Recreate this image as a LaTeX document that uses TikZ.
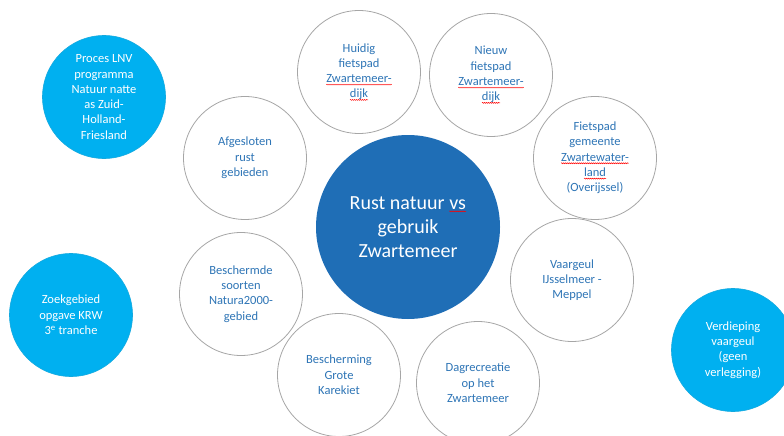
\documentclass[tikz,border=0pt]{standalone}
\usepackage{fontspec}
\setmainfont{Carlito}
\usetikzlibrary{decorations.pathmorphing}
\definecolor{darkb}{HTML}{1F6EB6}
\definecolor{lightb}{HTML}{00B0F0}
\definecolor{txtb}{HTML}{2E75B6}
\definecolor{ringg}{HTML}{A6A6A6}
\newcommand\sq[1]{\tikz[baseline=(w.base)]{\node[rectangle,draw=none,fill=none,minimum size=0pt,inner sep=0pt,outer sep=0pt] (w) {#1};\draw[red,line width=0.45pt,decorate,decoration={snake,amplitude=0.5pt,segment length=2pt}] ([yshift=-2pt]w.base west) -- ([yshift=-2pt]w.base east);}}
\tikzset{
  wcirc/.style={circle,draw=ringg,line width=0.8pt,fill=white,minimum size=123pt,inner sep=0pt,align=center,text=txtb,font=\fontsize{12.5}{15.3}\selectfont},
  bcirc/.style={circle,draw=lightb!85!gray,line width=0.6pt,fill=lightb,minimum size=123pt,inner sep=0pt,align=center,text=white,font=\fontsize{12.5}{15.3}\selectfont},
  maincirc/.style={circle,draw=none,fill=darkb,minimum size=184pt,inner sep=0pt,align=center,text=white,font=\fontsize{20}{24}\selectfont}
}
\begin{document}
\begin{tikzpicture}[x=1pt,y=-1pt]
\useasboundingbox (0,0) rectangle (784,436);
\fill[white] (0,0) rectangle (784,436);
\clip (0,0) rectangle (784,436);
\node[bcirc] (proc) at (104,97) {Proces LNV\\programma\\Natuur natte\\as Zuid-\\Holland-\\Friesland};
\node[bcirc] (zoek) at (71,315) {Zoekgebied\\opgave KRW\\3\textsuperscript{e} tranche};
\node[bcirc] (verd) at (733,350) {Verdieping\\vaargeul\\(geen\\verlegging)};
\node[wcirc] (huidig) at (359,72) {Huidig\\fietspad\\\sq{Zwartemeer-}\\\sq{dijk}};
\node[wcirc] (nieuw) at (491,75) {Nieuw\\fietspad\\\sq{Zwartemeer-}\\\sq{dijk}};
\node[wcirc] (fietsg) at (595,158) {Fietspad\\gemeente\\\sq{Zwartewater-}\\\sq{land}\\(Overijssel)};
\node[wcirc] (afg) at (245,158) {Afgesloten\\rust\\gebieden};
\node[wcirc] (besch) at (241,294) {Beschermde\\soorten\\Natura2000-\\gebied};
\node[wcirc] (grote) at (339,375) {Bescherming\\Grote\\Karekiet};
\node[wcirc] (vaar) at (572,280) {Vaargeul\\IJsselmeer -\\Meppel};
\node[wcirc] (dag) at (478,383) {Dagrecreatie\\op het\\Zwartemeer};
\node[maincirc] (main) at (408,227) {Rust natuur \sq{vs}\\gebruik\\Zwartemeer};
\end{tikzpicture}
\end{document}
